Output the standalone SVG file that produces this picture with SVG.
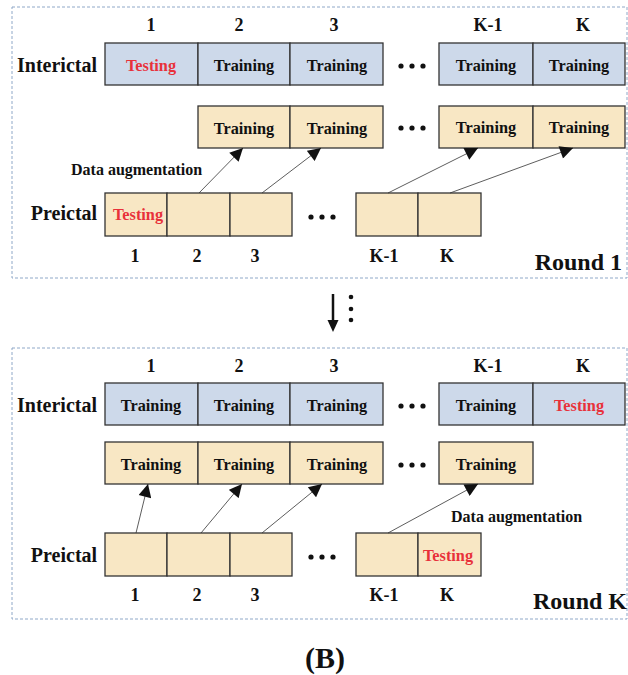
<svg xmlns="http://www.w3.org/2000/svg" width="628" height="675" viewBox="0 0 628 675">
<defs>
<style>
.frame{fill:none;stroke:#8FA8C8;stroke-width:1;stroke-dasharray:3,2}
.blue{fill:#CDD9EA;stroke:#333;stroke-width:1.3}
.tan{fill:#F8E7C4;stroke:#333;stroke-width:1.3}
.t{font-family:"Liberation Serif","Times New Roman",serif;font-weight:bold;fill:#111;text-anchor:middle;dominant-baseline:central}
.cell{font-size:16.3px}
.red{fill:#E8313A}
.num{font-size:18px}
.lab{font-size:20px}
.aug{font-size:16px;text-anchor:start}
.round{font-size:24px;text-anchor:end}
.conn{stroke:#333;stroke-width:0.8;fill:none;marker-end:url(#ah)}
.dot{fill:#111}
</style>
<marker id="ah" viewBox="0 0 10 10" refX="10" refY="5" markerWidth="14" markerHeight="13" markerUnits="userSpaceOnUse" orient="auto">
<path d="M0,0 L10,5 L0,10 z" fill="#111"/>
</marker>
</defs>

<!-- ROUND 1 -->
<g id="round1">
<rect class="frame" x="12" y="7" width="615" height="271"/>
<text class="t round" x="622" y="262">Round 1</text>
</g>
<g id="r1-labels">
<text class="t lab" x="57" y="65">Interictal</text>
<text class="t lab" x="64" y="213">Preictal</text>
<text class="t num" x="151" y="25">1</text>
<text class="t num" x="239" y="25">2</text>
<text class="t num" x="334" y="25">3</text>
<text class="t num" x="488" y="25">K-1</text>
<text class="t num" x="583" y="25">K</text>
<text class="t num" x="135" y="256">1</text>
<text class="t num" x="197" y="256">2</text>
<text class="t num" x="255" y="256">3</text>
<text class="t num" x="384" y="256">K-1</text>
<text class="t num" x="447" y="256">K</text>
<text class="t aug" x="71" y="169">Data augmentation</text>
</g>
<g id="r1-interictal">
<rect class="blue" x="105" y="43" width="93" height="42"/>
<rect class="blue" x="198" y="43" width="92" height="42"/>
<rect class="blue" x="290" y="43" width="93" height="42"/>
<rect class="blue" x="439" y="43" width="94" height="42"/>
<rect class="blue" x="533" y="43" width="92" height="42"/>
<text class="t cell red" x="151" y="65">Testing</text>
<text class="t cell" x="244" y="65">Training</text>
<text class="t cell" x="337" y="65">Training</text>
<text class="t cell" x="486" y="65">Training</text>
<text class="t cell" x="579" y="65">Training</text>
<circle class="dot" cx="401" cy="66" r="2.6"/><circle class="dot" cx="412" cy="66" r="2.6"/><circle class="dot" cx="423" cy="66" r="2.6"/>
</g>
<g id="r1-augmented">
<rect class="tan" x="198" y="106" width="92" height="42"/>
<rect class="tan" x="290" y="106" width="93" height="42"/>
<rect class="tan" x="439" y="106" width="94" height="42"/>
<rect class="tan" x="533" y="106" width="92" height="42"/>
<text class="t cell" x="244" y="128">Training</text>
<text class="t cell" x="337" y="128">Training</text>
<text class="t cell" x="486" y="127">Training</text>
<text class="t cell" x="579" y="127">Training</text>
<circle class="dot" cx="401" cy="128" r="2.6"/><circle class="dot" cx="412" cy="128" r="2.6"/><circle class="dot" cx="423" cy="128" r="2.6"/>
</g>
<g id="r1-preictal">
<rect class="tan" x="105" y="193" width="62" height="43"/>
<rect class="tan" x="167" y="193" width="63" height="43"/>
<rect class="tan" x="230" y="193" width="62" height="43"/>
<rect class="tan" x="356" y="193" width="62" height="43"/>
<rect class="tan" x="418" y="193" width="63" height="43"/>
<text class="t cell red" x="138" y="214">Testing</text>
<circle class="dot" cx="311" cy="217" r="2.6"/><circle class="dot" cx="322" cy="217" r="2.6"/><circle class="dot" cx="333" cy="217" r="2.6"/>
</g>

<!-- between -->
<g id="transition">
<line x1="333" y1="294" x2="333" y2="321" stroke="#111" stroke-width="2.5"/>
<path d="M327.5,320 L338.5,320 L333,332 z" fill="#111"/>
<circle class="dot" cx="351" cy="297" r="2.3"/><circle class="dot" cx="351" cy="309" r="2.3"/><circle class="dot" cx="351" cy="320" r="2.3"/>
</g>

<!-- ROUND K -->
<g id="roundK">
<rect class="frame" x="12" y="348" width="615" height="271"/>
<text class="t round" x="627" y="601">Round K</text>
</g>
<g id="rK-labels">
<text class="t lab" x="57" y="405">Interictal</text>
<text class="t lab" x="64" y="555">Preictal</text>
<text class="t num" x="151" y="366">1</text>
<text class="t num" x="239" y="366">2</text>
<text class="t num" x="334" y="366">3</text>
<text class="t num" x="488" y="366">K-1</text>
<text class="t num" x="583" y="366">K</text>
<text class="t num" x="135" y="595">1</text>
<text class="t num" x="197" y="595">2</text>
<text class="t num" x="255" y="595">3</text>
<text class="t num" x="384" y="595">K-1</text>
<text class="t num" x="447" y="595">K</text>
<text class="t aug" x="451" y="516">Data augmentation</text>
</g>
<g id="rK-interictal">
<rect class="blue" x="105" y="383" width="93" height="42"/>
<rect class="blue" x="198" y="383" width="92" height="42"/>
<rect class="blue" x="290" y="383" width="93" height="42"/>
<rect class="blue" x="439" y="383" width="94" height="42"/>
<rect class="blue" x="533" y="383" width="92" height="42"/>
<text class="t cell" x="151" y="405">Training</text>
<text class="t cell" x="244" y="405">Training</text>
<text class="t cell" x="337" y="405">Training</text>
<text class="t cell" x="486" y="405">Training</text>
<text class="t cell red" x="579" y="405">Testing</text>
<circle class="dot" cx="401" cy="406" r="2.6"/><circle class="dot" cx="412" cy="406" r="2.6"/><circle class="dot" cx="423" cy="406" r="2.6"/>
</g>
<g id="rK-augmented">
<rect class="tan" x="105" y="442" width="93" height="42"/>
<rect class="tan" x="198" y="442" width="92" height="42"/>
<rect class="tan" x="290" y="442" width="93" height="42"/>
<rect class="tan" x="439" y="442" width="94" height="42"/>
<text class="t cell" x="151" y="464">Training</text>
<text class="t cell" x="244" y="464">Training</text>
<text class="t cell" x="337" y="464">Training</text>
<text class="t cell" x="486" y="464">Training</text>
<circle class="dot" cx="401" cy="465" r="2.6"/><circle class="dot" cx="412" cy="465" r="2.6"/><circle class="dot" cx="423" cy="465" r="2.6"/>
</g>
<g id="rK-preictal">
<rect class="tan" x="105" y="533" width="62" height="43"/>
<rect class="tan" x="167" y="533" width="63" height="43"/>
<rect class="tan" x="230" y="533" width="62" height="43"/>
<rect class="tan" x="356" y="533" width="62" height="43"/>
<rect class="tan" x="418" y="533" width="63" height="43"/>
<text class="t cell red" x="448" y="555">Testing</text>
<circle class="dot" cx="311" cy="557" r="2.6"/><circle class="dot" cx="322" cy="557" r="2.6"/><circle class="dot" cx="333" cy="557" r="2.6"/>
</g>

<g id="connectors">
<line class="conn" x1="199" y1="193" x2="243" y2="148"/>
<line class="conn" x1="262" y1="193" x2="321" y2="148"/>
<line class="conn" x1="388" y1="193" x2="478" y2="148"/>
<line class="conn" x1="450" y1="193" x2="573" y2="148"/>
<line class="conn" x1="136" y1="533" x2="148" y2="484"/>
<line class="conn" x1="201" y1="533" x2="242" y2="484"/>
<line class="conn" x1="262" y1="533" x2="322" y2="484"/>
<line class="conn" x1="388" y1="533" x2="478" y2="484"/>
</g>

<text class="t" x="325" y="657" style="font-size:30px">(B)</text>
</svg>
